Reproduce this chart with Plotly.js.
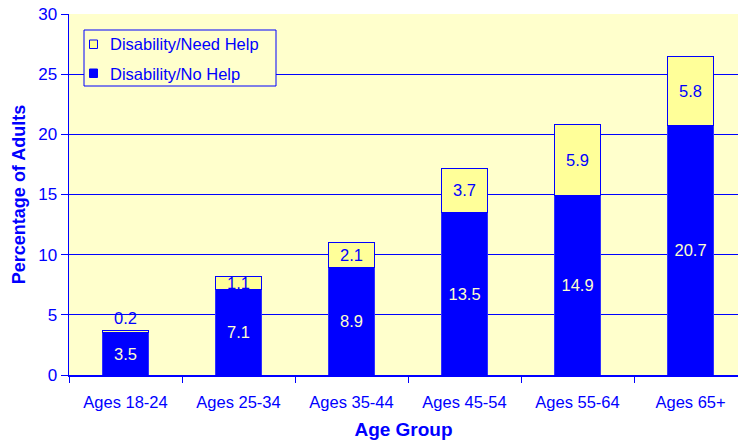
<!DOCTYPE html>
<html><head><meta charset="utf-8">
<script src="https://cdn.plot.ly/plotly-3.0.1.min.js"></script>
<style>html,body{margin:0;padding:0;background:#fff}#chart{width:738px;height:440px}</style>
</head><body><div id="chart"></div>
<script>
const categories = ["Ages 18-24","Ages 25-34","Ages 35-44","Ages 45-54","Ages 55-64","Ages 65+"];
const noHelp = [3.5, 7.1, 8.9, 13.5, 14.9, 20.7];
const needHelp = [0.2, 1.1, 2.1, 3.7, 5.9, 5.8];
const yTicks = [0,5,10,15,20,25,30];
const seriesNames = ["Disability/Need Help", "Disability/No Help"];

const blue = "#0000FF";
const yellow = "#FFFF99";
const font = "Liberation Sans, Arial, sans-serif";

const traces = [
  {type:"bar", name:seriesNames[1], x:categories, y:noHelp,
   marker:{color:blue, line:{color:"#3030ff", width:1}},
   text:noHelp.map(v=>v.toFixed(1)), textposition:"inside", insidetextanchor:"middle",
   constraintext:"none", textangle:0,
   textfont:{family:font, size:16.5, color:"#FFFFCC"}, hoverinfo:"skip"},
  {type:"bar", name:seriesNames[0], x:categories, y:needHelp,
   marker:{color:yellow, line:{color:blue, width:1}},
   text:needHelp.map(v=>v.toFixed(1)),
   textposition:needHelp.map(v=>v<0.5?"outside":"inside"), insidetextanchor:"middle",
   constraintext:"none", textangle:0, cliponaxis:false,
   textfont:{family:font, size:16.5, color:blue}, hoverinfo:"skip"}
];

// legend drawn in pixel-mapped paper coordinates
const px = x => (x-69)/669;
const py = y => (375-y)/361;
const shapes = [
  {type:"rect", xref:"paper", yref:"paper", x0:px(84), x1:px(276), y0:py(86), y1:py(30),
   line:{color:blue, width:1}, fillcolor:"#FFFFCC", layer:"above"},
  {type:"rect", xref:"paper", yref:"paper", x0:px(89.5), x1:px(97.5), y0:py(48.5), y1:py(40),
   line:{color:blue, width:1}, fillcolor:yellow, layer:"above"},
  {type:"rect", xref:"paper", yref:"paper", x0:px(89.5), x1:px(97.5), y0:py(77.5), y1:py(69),
   line:{color:blue, width:1}, fillcolor:blue, layer:"above"}
];
const annotations = [
  {xref:"paper", yref:"paper", x:px(108), y:py(44.5), xanchor:"left", yanchor:"middle",
   text:seriesNames[0], showarrow:false, font:{family:font, size:16.5, color:blue}},
  {xref:"paper", yref:"paper", x:px(108), y:py(73.5), xanchor:"left", yanchor:"middle",
   text:seriesNames[1], showarrow:false, font:{family:font, size:16.5, color:blue}}
];

const layout = {
  width:738, height:440,
  margin:{l:69, r:0, t:14, b:65},
  paper_bgcolor:"#FFFFFF", plot_bgcolor:"#FFFFCC",
  barmode:"stack", bargap:0.59,
  showlegend:false,
  shapes:shapes, annotations:annotations,
  xaxis:{type:"category", range:[-0.5, 5.42], tickson:"boundaries",
    ticks:"outside", ticklen:6, tickcolor:blue, showline:true, linecolor:blue, linewidth:1.5,
    ticklabelstandoff:12,
    tickfont:{family:font, size:16.5, color:blue}, showgrid:false,
    title:{text:"<b>Age Group</b>", font:{family:font, size:19, color:blue}, standoff:13}},
  yaxis:{range:[0,30], tickvals:yTicks, ticks:"outside", ticklen:7, tickcolor:blue,
    showline:true, linecolor:blue, linewidth:1.5, showgrid:true, gridcolor:blue, gridwidth:1,
    zeroline:false, tickfont:{family:font, size:17, color:blue},
    title:{text:"<b>Percentage of Adults</b>", font:{family:font, size:18, color:blue}, standoff:8}}
};
Plotly.newPlot("chart", traces, layout, {staticPlot:true});
</script></body></html>
